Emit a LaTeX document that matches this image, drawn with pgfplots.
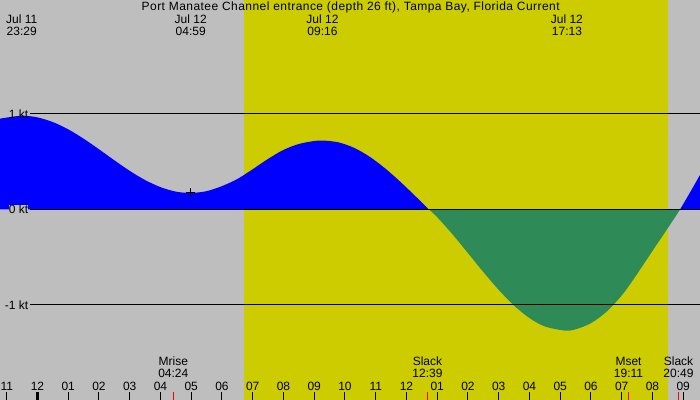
\documentclass[border=0pt]{standalone}
\usepackage{pgfplots}
\pgfplotsset{compat=1.18}
\usepackage{fontspec}
\setmainfont{Liberation Sans}
\definecolor{bggrey}{RGB}{190,190,190}
\definecolor{dayyellow}{RGB}{204,204,0}
\definecolor{ebbgreen}{RGB}{46,139,87}
\definecolor{floodblue}{RGB}{0,0,255}
\begin{document}
\begin{tikzpicture}[font=\fontsize{12bp}{14bp}\selectfont]
\begin{axis}[
  scale only axis, width=700bp, height=400bp,
  xmin=-1.2195, xmax=21.545, ymin=-1.9969, ymax=2.1916,
  axis on top,
  axis background/.style={fill=bggrey},
  axis x line*=bottom, axis y line=none,
  x axis line style={draw=none},
  xtick={-1,0,...,21},
  xticklabels={11,12,01,02,03,04,05,06,07,08,09,10,11,12,01,02,03,04,05,06,07,08,09},
  tick align=inside, major tick length=8bp,
  xtick style={black, line width=1bp},
  xticklabel style={anchor=base, yshift=10bp, inner sep=0pt, font=\fontsize{12bp}{14bp}\selectfont},
  clip=false,
]
% daylight band
\addplot[draw=none, fill=dayyellow] coordinates {(6.715,-1.9969) (6.715,2.1916) (20.494,2.1916) (20.494,-1.9969)} -- cycle;
% flood (positive) part 1
\addplot[draw=none, fill=floodblue, smooth, tension=0.5] coordinates {
 (-1.2195,0.949) (-0.52,0.98) (0,0.962) (0.5,0.913) (1,0.837) (1.5,0.739)
 (2,0.628) (2.5,0.513) (3,0.402) (3.5,0.306) (4,0.232) (4.5,0.185) (4.98,0.171)
 (5.5,0.19) (6.0,0.243) (6.5,0.317) (7.0,0.42) (7.5,0.528) (8.0,0.622) (8.5,0.684)
 (9.0,0.715) (9.3,0.72) (9.8,0.70) (10.3,0.643) (10.8,0.551) (11.3,0.43)
 (11.8,0.288) (12.3,0.134) (12.725,0)} \closedcycle;
% ebb (negative) part
\addplot[draw=none, fill=ebbgreen, smooth, tension=0.5] coordinates {
 (12.725,0) (13.0,-0.083) (13.5,-0.263) (14.0,-0.459) (14.5,-0.657) (15.0,-0.844)
 (15.5,-1.009) (16.0,-1.139) (16.5,-1.227) (17.15,-1.27)
 (17.5,-1.257) (18.0,-1.192) (18.5,-1.074) (19.0,-0.902) (19.38,-0.734) (19.8,-0.532)
 (20.2,-0.34) (20.6,-0.148) (20.9,0)} \closedcycle;
% flood part 2
\addplot[draw=none, fill=floodblue, smooth, tension=0.5] coordinates {(20.9,0) (21.2,0.165) (21.545,0.36)} \closedcycle;
% reference lines
\addplot[black, line width=1bp] coordinates {(-0.244,1) (21.545,1)};
\addplot[black, line width=1bp] coordinates {(-0.244,0) (21.545,0)};
\addplot[black, line width=1bp] coordinates {(-0.244,-1) (21.545,-1)};
% minimum marker
\addplot[only marks, mark=+, mark size=4.5bp, black, line width=1bp] coordinates {(4.98,0.171)};
% midnight tick and event ticks
\addplot[black, line width=3bp] coordinates {(0,-1.9969) (0,-1.913)};
\addplot[red, line width=1bp] coordinates {(4.417,-1.9969) (4.417,-1.913)};
\addplot[red, line width=1bp] coordinates {(12.68,-1.9969) (12.68,-1.913)};
\addplot[red, line width=1bp] coordinates {(19.213,-1.9969) (19.213,-1.913)};
\addplot[red, line width=1bp] coordinates {(20.84,-1.9969) (20.84,-1.913)};
% kt labels
\node[anchor=base east, inner sep=0pt] at (axis cs:-0.299,0.955) {1 kt};
\node[anchor=base east, inner sep=0pt, fill=bggrey] at (axis cs:-0.299,-0.045) {0 kt};
\node[anchor=base east, inner sep=0pt] at (axis cs:-0.299,-1.045) {-1 kt};
% title
\node[anchor=base, inner sep=0pt] at (axis cs:10.185,2.0764) {\addfontfeature{LetterSpace=3.8}Port Manatee Channel entrance (depth 26 ft), Tampa Bay, Florida Current};
% top event labels
\node[anchor=base, inner sep=0pt] at (axis cs:-0.514,1.9403) {Jul 11};
\node[anchor=base, inner sep=0pt] at (axis cs:-0.514,1.8178) {23:29};
\node[anchor=base, inner sep=0pt] at (axis cs:4.983,1.9403) {Jul 12};
\node[anchor=base, inner sep=0pt] at (axis cs:4.983,1.8178) {04:59};
\node[anchor=base, inner sep=0pt] at (axis cs:9.267,1.9403) {Jul 12};
\node[anchor=base, inner sep=0pt] at (axis cs:9.267,1.8178) {09:16};
\node[anchor=base, inner sep=0pt] at (axis cs:17.217,1.9403) {Jul 12};
\node[anchor=base, inner sep=0pt] at (axis cs:17.217,1.8178) {17:13};
% bottom event labels
\node[anchor=base, inner sep=0pt] at (axis cs:4.416,-1.6408) {Mrise};
\node[anchor=base, inner sep=0pt] at (axis cs:4.416,-1.7592) {04:24};
\node[anchor=base, inner sep=0pt] at (axis cs:12.683,-1.6408) {Slack};
\node[anchor=base, inner sep=0pt] at (axis cs:12.683,-1.7592) {12:39};
\node[anchor=base, inner sep=0pt] at (axis cs:19.22,-1.6408) {Mset};
\node[anchor=base, inner sep=0pt] at (axis cs:19.22,-1.7592) {19:11};
\node[anchor=base, inner sep=0pt] at (axis cs:20.846,-1.6408) {Slack};
\node[anchor=base, inner sep=0pt] at (axis cs:20.846,-1.7592) {20:49};
\end{axis}
\pgfresetboundingbox
\path[use as bounding box] (current axis.south west) rectangle (current axis.north east);
\end{tikzpicture}
\end{document}
